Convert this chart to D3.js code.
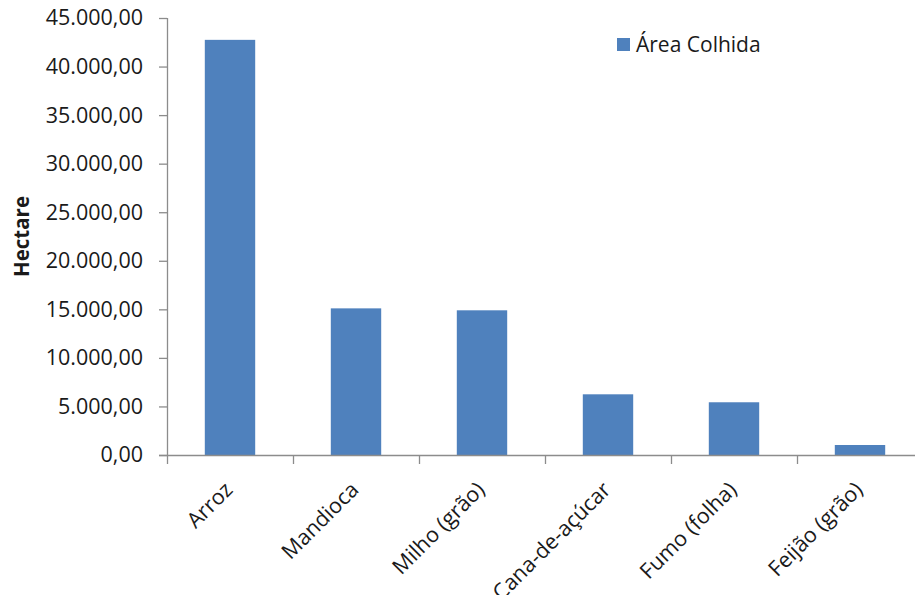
<!DOCTYPE html>
<html>
<head>
<meta charset="utf-8">
<script src="https://cdn.jsdelivr.net/npm/d3@7"></script>
<style>
  html, body { margin: 0; padding: 0; background: #fff; }
  svg { display: block; }
  text { font-family: "Open Sans", "Noto Sans", sans-serif; fill: #1a1a1a; }
</style>
</head>
<body>
<svg id="chart" width="915" height="595"></svg>
<script>
const categories = ["Arroz", "Mandioca", "Milho (grão)", "Cana-de-açúcar", "Fumo (folha)", "Feijão (grão)"];
const areaColhida = [42750, 15100, 14900, 6250, 5430, 1030];
const seriesName = "Área Colhida";
const yTicks = [0, 5000, 10000, 15000, 20000, 25000, 30000, 35000, 40000, 45000];
const yTitle = "Hectare";

(function () {
const svg = d3.select("#chart");
const W = 915, H = 595;
svg.append("rect").attr("width", W).attr("height", H).attr("fill", "#fff");

const mLeft = 167, mTop = 18, mBottom = 455, step = 126;
const x = d3.scaleBand().domain(categories).range([mLeft, mLeft + step * categories.length])
  .paddingInner(0.6).paddingOuter(0.3);
const y = d3.scaleLinear().domain([0, 45000]).range([mBottom, mTop]);

const locale = d3.formatLocale({ decimal: ",", thousands: ".", grouping: [3], currency: ["R$", ""] });
const fmt = locale.format(",.2f");

const axisColor = "#8c8c8c";

// bars
svg.append("g").selectAll("rect").data(categories).join("rect")
  .attr("x", d => x(d))
  .attr("width", x.bandwidth())
  .attr("y", (d, i) => y(areaColhida[i]))
  .attr("height", (d, i) => mBottom - y(areaColhida[i]))
  .attr("fill", "#4F81BD");

// y axis
const yAxis = svg.append("g").attr("transform", `translate(${mLeft},0)`)
  .call(d3.axisLeft(y).tickValues(yTicks).tickFormat(fmt).tickSize(8).tickPadding(16));
yAxis.select(".domain").attr("stroke", axisColor).attr("stroke-width", 1.3).attr("d", `M0.5,${mTop}V${mBottom}`);
yAxis.selectAll(".tick line").attr("stroke", axisColor).attr("stroke-width", 1.3);
yAxis.selectAll(".tick text").attr("font-size", 21.5).attr("fill", "#1a1a1a")
  .attr("font-family", "'Open Sans', sans-serif");

// x axis line
svg.append("line").attr("x1", mLeft - 8).attr("x2", W).attr("y1", mBottom + 0.5).attr("y2", mBottom + 0.5)
  .attr("stroke", axisColor).attr("stroke-width", 1.3);
// category boundary ticks
const bounds = d3.range(categories.length + 1).map(i => mLeft + i * step);
svg.append("g").selectAll("line").data(bounds).join("line")
  .attr("x1", d => d + 0.5).attr("x2", d => d + 0.5)
  .attr("y1", mBottom).attr("y2", mBottom + 9)
  .attr("stroke", axisColor).attr("stroke-width", 1.3);

// category labels
svg.append("g").selectAll("text").data(categories).join("text")
  .attr("transform", d => `translate(${x(d) + x.bandwidth() / 2 + 4},491) rotate(-45)`)
  .attr("text-anchor", "end")
  .attr("font-size", 21.5)
  .text(d => d);

// y title
svg.append("text")
  .attr("transform", `translate(29,${(mTop + mBottom) / 2}) rotate(-90)`)
  .attr("text-anchor", "middle")
  .attr("font-size", 20.5)
  .attr("font-weight", "bold")
  .attr("fill", "#000")
  .text(yTitle);

// legend
svg.append("rect").attr("x", 617).attr("y", 38).attr("width", 13).attr("height", 13).attr("fill", "#4F81BD");
svg.append("text").attr("x", 636).attr("y", 52).attr("font-size", 21).text(seriesName);
})();
</script>
</body>
</html>
